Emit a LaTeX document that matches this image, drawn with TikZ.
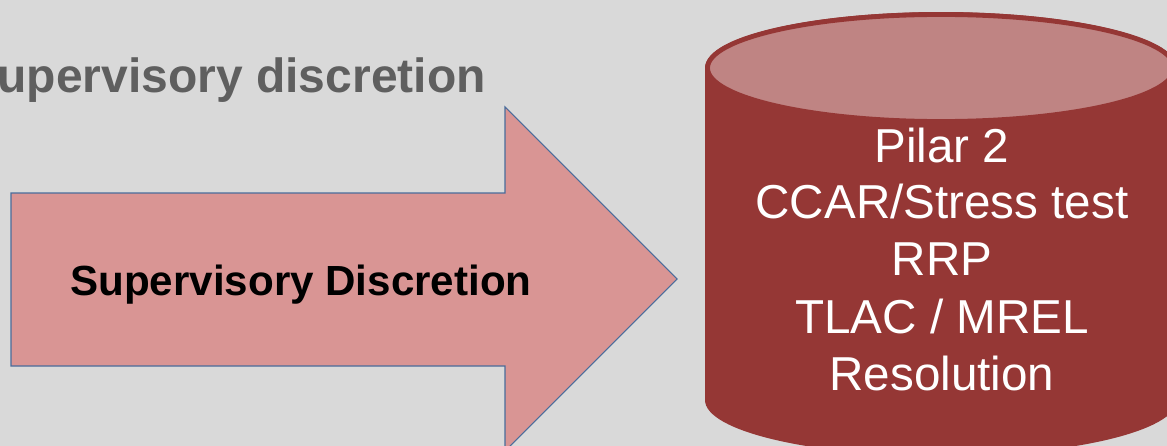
\documentclass[tikz,border=0pt]{standalone}
\usepackage{fontspec}
\setmainfont{Liberation Sans}
\usetikzlibrary{positioning}

\definecolor{slidegray}{HTML}{D9D9D9}
\definecolor{titlegray}{HTML}{5F5F5F}
\definecolor{arrowpink}{HTML}{D99594}
\definecolor{arrowline}{HTML}{4A6C9B}
\definecolor{drumred}{HTML}{953735}
\definecolor{drumtop}{HTML}{BF8483}

\begin{document}
\begin{tikzpicture}[x=0.75pt,y=-0.75pt,
	title/.style={font=\fontsize{36}{43}\selectfont\bfseries,
		text=titlegray, inner sep=0pt},
	arrowlabel/.style={font=\fontsize{31.6}{38}\selectfont\bfseries,
		inner sep=0pt},
	drumlabel/.style={font=\fontsize{35.7}{42.75}\selectfont,
		text=white, align=center, inner sep=0pt}]

% Slide background
\fill[slidegray] (0,0) rectangle (1167,446);
\useasboundingbox (0,0) rectangle (1167,446);
\clip (0,0) rectangle (1167,446);

% Heading, cut by the left edge
\node[title, anchor=base east] (heading) at (486,92) {Supervisory discretion};

%%%%%%%%%%%%%%%%%%%
% Block arrow

\draw[fill=arrowpink, draw=arrowline, line width=0.8pt]
	(11,193) -- (505,193) -- (505,107) -- (677,279)
	-- (505,451) -- (505,366) -- (11,366) -- cycle;

\node[arrowlabel, anchor=base] (discretion) at (301,295) {Supervisory Discretion};

%%%%%%%%%%%%%%%%%%%
% Cylinder

\fill[drumred] (705,68) -- (705,400) arc (180:0:236 and 56)
	-- (1177,68) arc (0:-180:236 and 56) -- cycle;
\draw[fill=drumtop, draw=drumred, line width=3.6pt]
	(941,68) ellipse [x radius=233.5, y radius=53.5];

\node[drumlabel, anchor=base] (pillar) at (942,162) {Pilar 2};
\node[drumlabel, anchor=base] (ccar) at (942,218) {CCAR/Stress test};
\node[drumlabel, anchor=base] (rrp) at (942,275) {RRP};
\node[drumlabel, anchor=base] (tlac) at (942,333) {TLAC / MREL};
\node[drumlabel, anchor=base] (resolution) at (942,390) {Resolution};

\end{tikzpicture}
\end{document}
